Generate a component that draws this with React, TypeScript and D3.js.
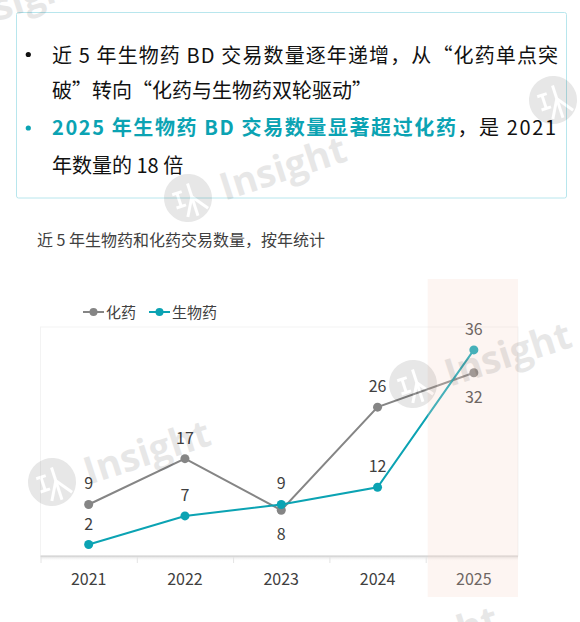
import React from 'react';
import * as d3 from 'd3';

const years = ['2021', '2022', '2023', '2024', '2025'];
const chemValues = [9, 17, 8, 26, 32];
const bioValues = [2, 7, 9, 12, 36];
const chemLabelSide = ['top', 'top', 'bottom', 'top', 'bottom'];
const bioLabelSide = ['top', 'top', 'top', 'top', 'top'];
const yDomainMax = 40;
const highlightYear = '2025';
const seriesNames = ['化药', '生物药'];

const bullet1 = '近 5 年生物药 BD 交易数量逐年递增，从“化药单点突';
const bullet1b = '破”转向“化药与生物药双轮驱动”';
const bullet2Bold = '2025 年生物药 BD 交易数量显著超过化药';
const bullet2Rest = '，是 2021';
const bullet2b = '年数量的 18 倍';
const subtitle = '近 5 年生物药和化药交易数量，按年统计';

const watermarks = [
  { x: 188, y: 198 },
  { x: 52, y: 482 },
  { x: 413, y: 384 },
  { x: 553, y: 100 },
  { x: -75, y: 30 },
  { x: 340, y: 668 },
];

const W = 580;
const H = 622;
const CJK = '"Noto Sans CJK SC", "Noto Sans", sans-serif';
const GREY = '#858585';
const TEAL = '#0ba3b3';
const TEXT = '#404040';

function Watermark({ x, y }: { x: number; y: number }) {
  return (
    <g transform={`translate(${x},${y}) rotate(-18)`} opacity={0.09}>
      <circle r={24} fill="#000" />
      <g stroke="#fff" strokeWidth={3} fill="none">
        <line x1={-14} y1={-8} x2={-4} y2={-8} />
        <line x1={-9} y1={-8} x2={-9} y2={6} />
        <line x1={-14} y1={6} x2={-4} y2={6} />
        <line x1={4} y1={-14} x2={4} y2={20} />
        <line x1={4} y1={0} x2={-6} y2={18} />
        <line x1={4} y1={0} x2={16} y2={16} />
      </g>
      <text x={34} y={14} fontFamily='"Open Sans", "DejaVu Sans", sans-serif' fontWeight={700} fontSize={38} fill="#000">
        Insight
      </text>
    </g>
  );
}

export default function App() {
  const x = d3.scaleBand<string>().domain(years).range([40.5, 522]).padding(0);
  const y = d3.scaleLinear().domain([0, yDomainMax]).range([556, 327]);
  const cx = (d: string) => (x(d) as number) + x.bandwidth() / 2;

  const line = d3
    .line<number>()
    .x((_, i) => cx(years[i]))
    .y((v) => y(v));

  const hx = x(highlightYear) as number;
  const plotLeft = x.range()[0];
  const plotRight = 518;

  const series = [
    { name: seriesNames[0], values: chemValues, color: GREY, sides: chemLabelSide },
    { name: seriesNames[1], values: bioValues, color: TEAL, sides: bioLabelSide },
  ];

  const legendItems = [
    { name: seriesNames[0], color: GREY, x: 83 },
    { name: seriesNames[1], color: TEAL, x: 149 },
  ];

  return (
    <svg width={W} height={H} style={{ position: 'absolute', left: 0, top: 0, background: '#fff' }}>
      <defs>
        <linearGradient id="axshadow" x1="0" y1="0" x2="0" y2="1">
          <stop offset="0" stopColor="#d6d6d6" />
          <stop offset="1" stopColor="#ffffff" stopOpacity={0} />
        </linearGradient>
      </defs>

      {/* Callout box */}
      <rect x={16.5} y={12.5} width={550} height={185.5} fill="#fff" stroke="#b8e6ed" strokeWidth={1} rx={2} />
      <g fontFamily={CJK} fontSize={20} fill="#111">
        <circle cx={28.3} cy={54.5} r={2.6} fill="#111" />
        <text x={52} y={62.5} textLength={506} lengthAdjust="spacing">{bullet1}</text>
        <text x={52} y={97.5}>{bullet1b}</text>
        <circle cx={28.3} cy={128} r={2.6} fill={TEAL} />
        <text x={52} y={134.5} textLength={504} lengthAdjust="spacing">
          <tspan fill={TEAL} fontWeight={700}>{bullet2Bold}</tspan>
          <tspan>{bullet2Rest}</tspan>
        </text>
        <text x={52} y={172.5}>{bullet2b}</text>
      </g>

      {/* Subtitle */}
      <text x={37} y={246} fontFamily={CJK} fontSize={16} fill={TEXT}>
        {subtitle}
      </text>

      {/* Plot frame */}
      <rect x={plotLeft} y={327} width={plotRight - plotLeft} height={229} fill="#fff" stroke="#f3f3f3" />
      <rect x={plotLeft} y={556} width={plotRight - plotLeft} height={5} fill="url(#axshadow)" />
      <line x1={plotLeft} x2={plotRight} y1={556} y2={556} stroke="#d2d2d2" strokeWidth={1.2} />
      {years.map((d) => (
        <line key={d} x1={(x(d) as number) + 0.5} x2={(x(d) as number) + 0.5} y1={557} y2={563} stroke="#e4e4e4" />
      ))}

      {/* Axis labels */}
      {years.map((d) => (
        <text key={d} x={cx(d)} y={585} textAnchor="middle" fontFamily={CJK} fontSize={16} fill={TEXT}>
          {d}
        </text>
      ))}

      {/* Legend */}
      <g fontFamily={CJK} fontSize={15} fill={TEXT}>
        {legendItems.map((l) => (
          <g key={l.name}>
            <line x1={l.x} x2={l.x + 21} y1={312} y2={312} stroke={l.color} strokeWidth={2} />
            <circle cx={l.x + 10.5} cy={312} r={4} fill={l.color} />
            <text x={l.x + 23} y={317.5}>{l.name}</text>
          </g>
        ))}
      </g>

      {/* Series */}
      {series.map((s) => (
        <g key={s.name}>
          <path d={line(s.values) as string} fill="none" stroke={s.color} strokeWidth={2} />
          {s.values.map((v, i) => (
            <circle key={i} cx={cx(years[i])} cy={y(v)} r={4.5} fill={s.color} />
          ))}
        </g>
      ))}
      {series.map((s) =>
        s.values.map((v, i) => (
          <text
            key={s.name + i}
            x={cx(years[i])}
            y={s.sides[i] === 'top' ? y(v) - 15 : y(v) + 30}
            textAnchor="middle"
            fontFamily={CJK}
            fontSize={16}
            fill={TEXT}
          >
            {v}
          </text>
        ))
      )}

      {/* Highlight band */}
      <rect x={hx + 2} y={279} width={plotRight - hx - 2} height={318} fill="rgb(247,215,203)" opacity={0.25} />

      {/* Watermarks */}
      {watermarks.map((w, i) => (
        <Watermark key={i} x={w.x} y={w.y} />
      ))}
    </svg>
  );
}
